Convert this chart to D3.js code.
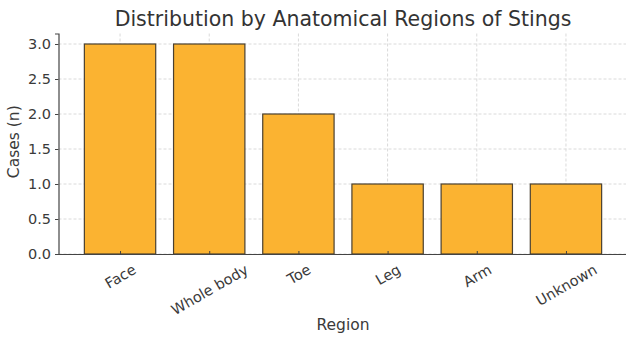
<!DOCTYPE html>
<html>
<head>
<meta charset="utf-8">
<script src="https://cdn.jsdelivr.net/npm/d3@7"></script>
<style>
  body { margin: 0; background: #fff; }
  svg text { font-family: "DejaVu Sans", sans-serif; }
</style>
</head>
<body>
<div id="chart"></div>
<script>
const regions = ['Face', 'Whole body', 'Toe', 'Leg', 'Arm', 'Unknown'];
const cases = [3, 3, 2, 1, 1, 1];
const yTicks = [0, 0.5, 1, 1.5, 2, 2.5, 3];

const width = 626, height = 337;
const margin = { top: 33.5, right: -1.5, bottom: 83, left: 58.5 };
const innerW = width - margin.left - margin.right;
const innerH = height - margin.top - margin.bottom;

const svg = d3.select('#chart').append('svg')
  .attr('width', width)
  .attr('height', height);

const g = svg.append('g')
  .attr('transform', `translate(${margin.left},${margin.top})`);

// matplotlib style: bars at integer positions, width 0.8, 5% margins
const x = d3.scaleLinear().domain([-0.69, regions.length - 1 + 0.69]).range([0, innerW]);
const y = d3.scaleLinear().domain([0, 3.15]).range([innerH, 0]);
const barW = x(0.8) - x(0);

// grid
g.append('g').selectAll('line.hgrid')
  .data(yTicks)
  .join('line')
  .attr('class', 'hgrid')
  .attr('x1', 0).attr('x2', innerW)
  .attr('y1', d => y(d)).attr('y2', d => y(d))
  .attr('stroke', '#dadada').attr('stroke-width', 1)
  .attr('stroke-dasharray', '3,2');

g.append('g').selectAll('line.vgrid')
  .data(regions)
  .join('line')
  .attr('class', 'vgrid')
  .attr('x1', (d, i) => x(i)).attr('x2', (d, i) => x(i))
  .attr('y1', 0).attr('y2', innerH)
  .attr('stroke', '#dadada').attr('stroke-width', 1)
  .attr('stroke-dasharray', '3,2');

// bars
g.selectAll('rect.bar')
  .data(cases)
  .join('rect')
  .attr('class', 'bar')
  .attr('x', (d, i) => x(i) - barW / 2)
  .attr('y', d => y(d))
  .attr('width', barW)
  .attr('height', d => y(0) - y(d))
  .attr('fill', '#fbb331')
  .attr('stroke', '#4a4030')
  .attr('stroke-width', 1.2);

// axes
const yAxis = g.append('g')
  .call(d3.axisLeft(y).tickValues(yTicks).tickFormat(d3.format('.1f')).tickSize(3.5).tickPadding(4));
yAxis.select('.domain').attr('stroke', '#444').attr('stroke-width', 1.2);
yAxis.selectAll('.tick line').attr('stroke', '#444');
yAxis.selectAll('text').attr('fill', '#3a3a3a').style('font-size', '14.5px');

const xAxis = g.append('g')
  .attr('transform', `translate(0,${innerH})`)
  .call(d3.axisBottom(x).tickValues(d3.range(regions.length)).tickFormat(i => regions[i]).tickSize(-3).tickSizeOuter(0));
xAxis.select('.domain').attr('stroke', '#444').attr('stroke-width', 1.2);
xAxis.selectAll('.tick line').attr('stroke', '#444');

// rotated labels: centre of rotated box under the tick, top of box 8px below axis
const angle = 30, rad = angle * Math.PI / 180, fs = 14.5;
xAxis.selectAll('text')
  .attr('fill', '#3a3a3a')
  .style('font-size', fs + 'px')
  .attr('text-anchor', 'middle')
  .attr('dominant-baseline', 'central')
  .attr('dy', null)
  .attr('y', null)
  .attr('transform', function () {
    const len = this.getComputedTextLength();
    const h = fs * 1.0;
    const halfH = (len * Math.sin(rad) + h * Math.cos(rad)) / 2;
    return `translate(0,${8 + halfH}) rotate(${-angle})`;
  });

// titles
svg.append('text')
  .attr('x', margin.left + innerW / 2)
  .attr('y', 26)
  .attr('text-anchor', 'middle')
  .attr('fill', '#333')
  .style('font-size', '20.5px')
  .text('Distribution by Anatomical Regions of Stings');

svg.append('text')
  .attr('x', margin.left + innerW / 2)
  .attr('y', 330)
  .attr('text-anchor', 'middle')
  .attr('fill', '#3a3a3a')
  .style('font-size', '15.5px')
  .text('Region');

svg.append('text')
  .attr('transform', `translate(19,${margin.top + innerH / 2 - 2}) rotate(-90)`)
  .attr('text-anchor', 'middle')
  .attr('fill', '#3a3a3a')
  .style('font-size', '15.5px')
  .text('Cases (n)');
</script>
</body>
</html>
